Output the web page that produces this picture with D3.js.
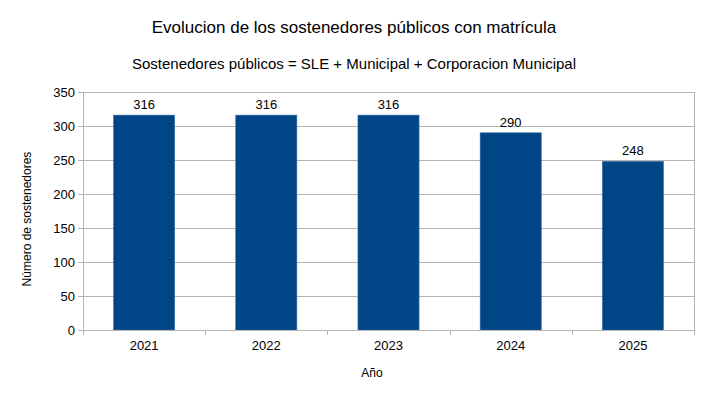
<!DOCTYPE html>
<html>
<head>
<meta charset="utf-8">
<script src="https://cdn.jsdelivr.net/npm/d3@7"></script>
<style>
  body { margin: 0; background: #fff; }
  text { font-family: "Liberation Sans", Arial, sans-serif; fill: #000; }
</style>
</head>
<body>
<div id="chart"></div>
<script>
// datos
const years = ["2021", "2022", "2023", "2024", "2025"];
const counts = [316, 316, 316, 290, 248];
const yTicks = [0, 50, 100, 150, 200, 250, 300, 350];

const W = 709, H = 400;
const margin = { top: 92, right: 15, bottom: 70, left: 83 };
const width = W - margin.left - margin.right;
const height = H - margin.top - margin.bottom;

const svg = d3.select("#chart")
    .append("svg")
    .attr("width", W)
    .attr("height", H);

// títulos
svg.append("text")
    .attr("x", 354)
    .attr("y", 33)
    .attr("text-anchor", "middle")
    .style("font-size", "17px")
    .text("Evolucion de los sostenedores públicos con matrícula");

svg.append("text")
    .attr("x", 354)
    .attr("y", 69)
    .attr("text-anchor", "middle")
    .style("font-size", "15px")
    .text("Sostenedores públicos = SLE + Municipal + Corporacion Municipal");

const g = svg.append("g")
    .attr("transform", `translate(${margin.left},${margin.top})`);

const x = d3.scaleBand()
    .domain(years)
    .range([0, width])
    .paddingInner(0.5)
    .paddingOuter(0.25);

const y = d3.scaleLinear()
    .domain([0, 350])
    .range([height, 0]);

// grilla
g.selectAll(".grid")
    .data(yTicks)
    .enter()
    .append("line")
    .attr("x1", 0)
    .attr("x2", width)
    .attr("y1", d => Math.round(y(d)) + 0.5)
    .attr("y2", d => Math.round(y(d)) + 0.5)
    .attr("stroke", "#b3b3b3");

g.append("line")
    .attr("x1", width + 0.5).attr("x2", width + 0.5)
    .attr("y1", 0).attr("y2", height)
    .attr("stroke", "#b3b3b3");

// barras
g.selectAll(".bar")
    .data(years.map((yr, i) => ({ yr, v: counts[i] })))
    .enter()
    .append("rect")
    .attr("x", d => x(d.yr))
    .attr("y", d => y(d.v))
    .attr("width", x.bandwidth())
    .attr("height", d => height - y(d.v))
    .attr("fill", "#004586")
    .attr("stroke", "#3a6ea5")
    .attr("stroke-width", 0.6);

// etiquetas
g.selectAll(".lbl")
    .data(years.map((yr, i) => ({ yr, v: counts[i] })))
    .enter()
    .append("text")
    .attr("x", d => x(d.yr) + x.bandwidth() / 2)
    .attr("y", d => y(d.v) - 6)
    .attr("text-anchor", "middle")
    .style("font-size", "13px")
    .text(d => d.v);

// eje y
const yAxis = g.append("g")
    .call(d3.axisLeft(y).tickValues(yTicks).tickSize(5).tickPadding(3));
yAxis.select(".domain").attr("stroke", "#b3b3b3").attr("d", `M0.5,0V${height}`);
yAxis.selectAll(".tick line").attr("stroke", "#b3b3b3");
yAxis.selectAll("text").style("font-size", "13px").style("font-family", "Liberation Sans, Arial, sans-serif");

// eje x
const xAxis = g.append("g")
    .attr("transform", `translate(0,${height})`)
    .call(d3.axisBottom(x).tickSize(0).tickPadding(11));
xAxis.select(".domain").attr("stroke", "#b3b3b3").attr("d", `M0,0.5H${width}`);
xAxis.selectAll("text").style("font-size", "13px").style("font-family", "Liberation Sans, Arial, sans-serif");

// marcas entre categorías
const step = width / years.length;
g.selectAll(".xt")
    .data(d3.range(years.length + 1))
    .enter()
    .append("line")
    .attr("x1", d => Math.round(d * step) + 0.5)
    .attr("x2", d => Math.round(d * step) + 0.5)
    .attr("y1", height)
    .attr("y2", height + 5)
    .attr("stroke", "#b3b3b3");

// títulos de ejes
svg.append("text")
    .attr("transform", `translate(31,219) rotate(-90)`)
    .attr("text-anchor", "middle")
    .style("font-size", "12px")
    .text("Número de sostenedores");

svg.append("text")
    .attr("x", 372)
    .attr("y", 377)
    .attr("text-anchor", "middle")
    .style("font-size", "12px")
    .text("Año");
</script>
</body>
</html>
